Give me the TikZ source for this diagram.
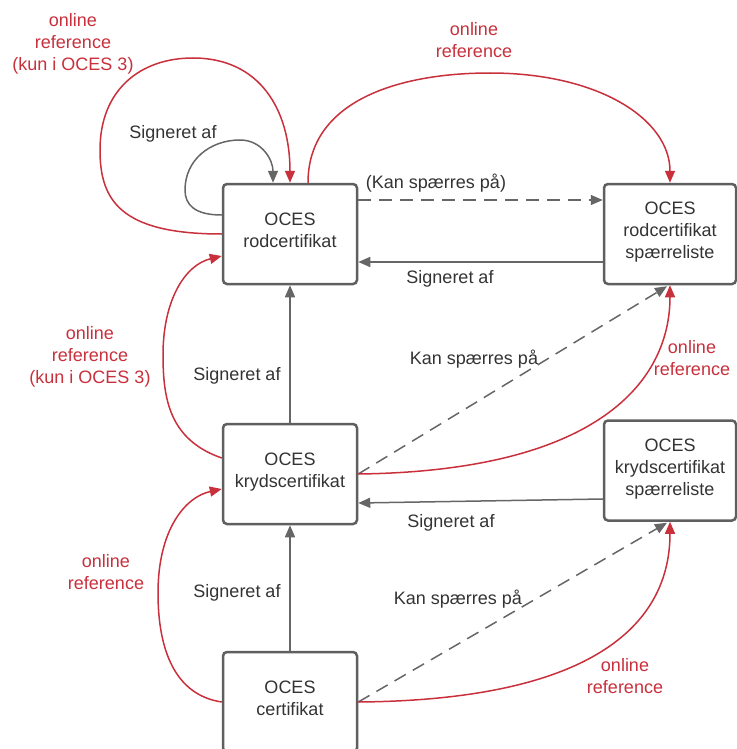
\documentclass[tikz,border=0pt]{standalone}
\usepackage{fontspec}
\setmainfont{Liberation Sans}
\usetikzlibrary{arrows.meta,calc}
\definecolor{boxgray}{HTML}{5F5F5F}
\definecolor{linegray}{HTML}{666666}
\definecolor{txtgray}{HTML}{333333}
\definecolor{refred}{HTML}{C8303C}
\begin{document}
\begin{tikzpicture}[x=1pt,y=-1pt,
  certbox/.style={draw=boxgray,line width=2.5pt,rounded corners=4pt,
    minimum width=134pt,minimum height=100pt,align=center,text=txtgray,
    font=\fontsize{18}{22}\selectfont,inner sep=0pt,
    execute at end node={\rule[-7pt]{0pt}{0pt}}},
  lbl/.style={text=txtgray,align=center,font=\fontsize{18}{22}\selectfont,inner sep=0pt},
  reflbl/.style={lbl,text=refred},
  signedge/.style={draw=linegray,line width=1.5pt,-{Triangle[length=12pt,width=10pt]}},
  revokeedge/.style={signedge,dash pattern=on 13pt off 8pt},
  refedge/.style={draw=refred,line width=1.5pt,-{Triangle[length=12pt,width=10pt]}},
]
\useasboundingbox (0,0) rectangle (736,749);

% certificate boxes
\node[certbox] (rod)    at (290,234)   {OCES\\rodcertifikat};
\node[certbox,minimum width=132pt] (rodsp)  at (670,234)   {OCES\\rodcertifikat\\spærreliste};
\node[certbox] (kryds)  at (290,474)   {OCES\\krydscertifikat};
\node[certbox,minimum width=132pt] (krydsp) at (670,470.5) {OCES\\krydscertifikat\\spærreliste};
\node[certbox] (cert)   at (290,702)   {OCES\\certifikat};

% root certificate: self-signed loop
\draw[signedge] ($(rod.west)+(0,-19)$) .. controls (195,215) and (185,205) .. (185,190)
  .. controls (185,160) and (210,140) .. (240,140)
  .. controls (262,140) and (273,160) .. ($(rod.north)+(-17,0)$);
\node[lbl] (lself) at (173,134) {Signeret af};

% root certificate: online self reference
\draw[refedge] (rod.west) .. controls (120,234) and (100,200) .. (100,150)
  .. controls (100,90) and (140,58) .. (193,58)
  .. controls (260,58) and (290,110) .. (rod.north);
\node[reflbl] (lrodref) at (73,44) {online\\reference\\(kun i OCES 3)};

% root certificate -> root revocation list
\draw[refedge] ($(rod.north)+(18,0)$) .. controls (308,100) and (400,73) .. (490,73)
  .. controls (600,73) and (670,120) .. (rodsp.north);
\node[reflbl] (lrodspref) at (474,40) {online\\reference};

\draw[revokeedge] ($(rod.east)+(0,-34)$) -- ($(rodsp.west)+(0,-34)$);
\node[lbl] (lrodrev) at (436,183) {(Kan spærres på)};

\draw[signedge] ($(rodsp.west)+(0,28)$) -- ($(rod.east)+(0,28)$);
\node[lbl] (lrodspsign) at (450,279) {Signeret af};

% cross certificate
\draw[signedge] (kryds.north) -- (rod.south);
\node[lbl] (lkrydssign) at (237,376) {Signeret af};

\draw[refedge] ($(kryds.west)+(0,-16)$) .. controls (170,440) and (163,400) .. (163,355)
  .. controls (163,300) and (185,265) .. ($(rod.west)+(0,22)$);
\node[reflbl] (lkrydsref) at (90,357) {online\\reference\\(kun i OCES 3)};

\draw[revokeedge] (kryds.east) -- ($(rodsp.south)+(-3,1)$);
\node[lbl] (lkrydsrev) at (474,359) {Kan spærres på};

\draw[refedge] (kryds.east) .. controls (600,471) and (670,380) .. (rodsp.south);
\node[reflbl] (lkrydsspref) at (692,358) {online\\reference};

\draw[signedge] ($(krydsp.west)+(0,28.5)$) -- ($(kryds.east)+(0,29)$);
\node[lbl] (lkrydspsign) at (451,523) {Signeret af};

% end-entity certificate
\draw[signedge] (cert.north) -- (kryds.south);
\node[lbl] (lcertsign) at (237,593) {Signeret af};

\draw[refedge] (cert.west) .. controls (175,695) and (158,650) .. (158,593)
  .. controls (158,530) and (185,497) .. ($(kryds.west)+(0,15)$);
\node[reflbl] (lcertref) at (106,572) {online\\reference};

\draw[revokeedge] (cert.east) -- ($(krydsp.south)+(-3,1)$);
\node[lbl] (lcertrev) at (458,599) {Kan spærres på};

\draw[refedge] (cert.east) .. controls (600,700) and (670,620) .. (krydsp.south);
\node[reflbl] (lcertspref) at (625,676) {online\\reference};
\end{tikzpicture}
\end{document}
